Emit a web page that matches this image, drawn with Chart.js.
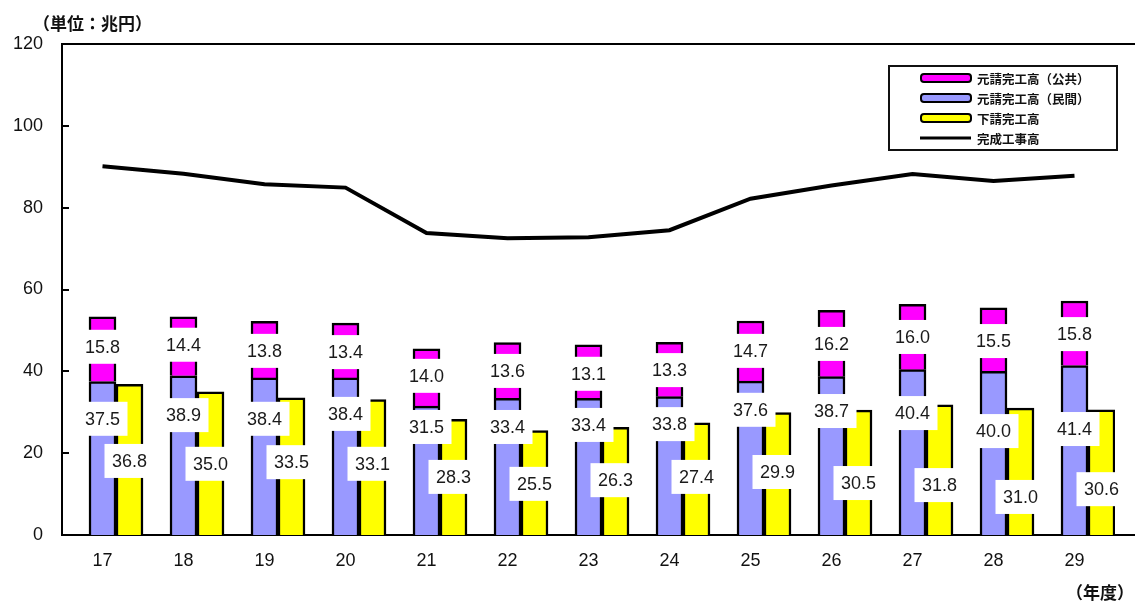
<!DOCTYPE html>
<html>
<head>
<meta charset="utf-8">
<script src="https://cdn.jsdelivr.net/npm/chart.js@4.4.1/dist/chart.umd.min.js"></script>
<style>
  html, body { margin: 0; padding: 0; background: #fff; }
  #wrap { position: relative; width: 1135px; height: 605px; }
</style>
</head>
<body>
<div id="wrap"><canvas id="c"></canvas></div>
<script>
// ---- data ----
const categories = ['17','18','19','20','21','22','23','24','25','26','27','28','29'];
const seriesNames = ['元請完工高（公共）','元請完工高（民間）','下請完工高','完成工事高'];
const publicWorks  = [15.8,14.4,13.8,13.4,14.0,13.6,13.1,13.3,14.7,16.2,16.0,15.5,15.8];
const privateWorks = [37.5,38.9,38.4,38.4,31.5,33.4,33.4,33.8,37.6,38.7,40.4,40.0,41.4];
const subcontract  = [36.8,35.0,33.5,33.1,28.3,25.5,26.3,27.4,29.9,30.5,31.8,31.0,30.6];
const totalWorks   = [90.1,88.3,85.7,84.9,73.8,72.5,72.8,74.5,82.2,85.4,88.2,86.5,87.8];
const yTicks = [0,20,40,60,80,100,120];

// ---- label anchor positions (value units, layout only) ----
const labelYPublic  = [46.0,46.5,45.0,44.7,38.9,40.1,39.4,40.3,45.0,46.7,48.4,47.4,49.1];
const labelYPrivate = [28.4,29.3,28.4,29.6,26.4,26.4,26.9,27.1,30.6,30.3,29.8,25.4,25.9];
const labelYSub     = [18.1,17.4,17.8,17.4,14.2,12.5,13.4,14.2,15.4,12.7,12.2, 9.3,11.2];

const COL_PUB = '#FF00FF', COL_PRIV = '#9999FF', COL_SUB = '#FFFF00';
const NUM_FONT = '18px "Liberation Sans", Arial, sans-serif';
const JP_FONT = '"Noto Sans CJK JP", "Noto Sans", sans-serif';

const decorPlugin = {
  id: 'decor',
  afterDatasetsDraw(chart) {
    const ctx = chart.ctx;
    const y = chart.scales.y;
    const ca = chart.chartArea;
    // inward ticks on y axis
    ctx.save();
    ctx.strokeStyle = '#000'; ctx.lineWidth = 2;
    yTicks.forEach(v => {
      const py = Math.round(y.getPixelForValue(v));
      if (v === 0 || v === 120) return;
      ctx.beginPath(); ctx.moveTo(ca.left, py); ctx.lineTo(ca.left + 7, py); ctx.stroke();
    });
    // top frame and extended x axis line
    ctx.beginPath(); ctx.moveTo(ca.left - 1, ca.top); ctx.lineTo(chart.width, ca.top); ctx.stroke();
    ctx.beginPath(); ctx.moveTo(ca.right, ca.bottom); ctx.lineTo(chart.width, ca.bottom); ctx.stroke();
    ctx.restore();

    // value labels with white boxes
    const drawLabel = (meta, posArr, vals) => {
      meta.data.forEach((el, i) => {
        const cx = el.x;
        const cy = y.getPixelForValue(posArr[i]);
        ctx.fillStyle = '#fff';
        ctx.fillRect(cx - 25, cy - 17, 50, 34);
        ctx.fillStyle = '#1a1a1a';
        ctx.font = NUM_FONT;
        ctx.textAlign = 'center';
        ctx.textBaseline = 'middle';
        ctx.fillText(vals[i].toFixed(1), cx, cy + 1);
      });
    };
    ctx.save();
    drawLabel(chart.getDatasetMeta(2), labelYPublic, publicWorks);
    drawLabel(chart.getDatasetMeta(1), labelYPrivate, privateWorks);
    drawLabel(chart.getDatasetMeta(3), labelYSub, subcontract);
    ctx.restore();
  },
  afterDraw(chart) {
    const ctx = chart.ctx;
    ctx.save();
    // legend
    ctx.fillStyle = '#fff';
    ctx.fillRect(889, 66, 228, 84);
    ctx.strokeStyle = '#111'; ctx.lineWidth = 2;
    ctx.strokeRect(889, 66, 228, 84);
    const rows = [78, 98, 118, 138];
    const fills = [COL_PUB, COL_PRIV, COL_SUB, null];
    rows.forEach((ry, k) => {
      if (fills[k]) {
        ctx.fillStyle = fills[k];
        ctx.strokeStyle = '#000'; ctx.lineWidth = 2;
        ctx.beginPath();
        ctx.roundRect(921, ry - 4, 50, 8, 3);
        ctx.fill(); ctx.stroke();
      } else {
        ctx.strokeStyle = '#000'; ctx.lineWidth = 3;
        ctx.beginPath(); ctx.moveTo(920, ry); ctx.lineTo(971, ry); ctx.stroke();
      }
      ctx.fillStyle = '#111';
      ctx.font = 'bold 12.5px ' + JP_FONT;
      ctx.textAlign = 'left'; ctx.textBaseline = 'middle';
      ctx.fillText(seriesNames[k], 977, ry + 1);
    });
    // unit labels
    ctx.font = 'bold 17px ' + JP_FONT;
    ctx.fillStyle = '#111';
    ctx.textAlign = 'left'; ctx.textBaseline = 'middle';
    ctx.fillText('（単位：兆円）', 33, 24);
    ctx.font = 'bold 17px ' + JP_FONT;
    ctx.fillText('（年度）', 1066, 593);
    ctx.restore();
  }
};

new Chart(document.getElementById('c'), {
  type: 'bar',
  data: {
    labels: categories,
    datasets: [
      { label: '_spacer', data: categories.map(() => null), stack: 'spacer', barThickness: 27 },
      { label: seriesNames[1], data: privateWorks, stack: 'main', backgroundColor: COL_PRIV,
        borderColor: '#000', borderWidth: 2.5, barThickness: 27 },
      { label: seriesNames[0], data: publicWorks, stack: 'main', backgroundColor: COL_PUB,
        borderColor: '#000', borderWidth: 2.5, barThickness: 27 },
      { label: seriesNames[2], data: subcontract, stack: 'sub', backgroundColor: COL_SUB,
        borderColor: '#000', borderWidth: 2.5, barThickness: 27 },
      { type: 'line', label: seriesNames[3], data: totalWorks, borderColor: '#000',
        borderWidth: 4, pointRadius: 0, tension: 0, fill: false, order: -1 }
    ]
  },
  options: {
    responsive: true,
    maintainAspectRatio: false,
    animation: false,
    layout: { padding: { top: 44, right: 20, left: 0, bottom: 0 } },
    plugins: { legend: { display: false }, tooltip: { enabled: false } },
    scales: {
      x: {
        stacked: true,
        offset: true,
        grid: { display: false, drawTicks: false },
        border: { display: true, color: '#000', width: 2 },
        ticks: { color: '#111', font: { family: '"Liberation Sans", Arial, sans-serif', size: 18 }, padding: 15, maxRotation: 0 },
        afterFit(s) { s.height = 70; }
      },
      y: {
        stacked: true,
        min: 0, max: 120,
        afterBuildTicks(s) { s.ticks = yTicks.map(v => ({ value: v })); },
        grid: { display: false, drawTicks: false },
        border: { display: true, color: '#000', width: 2 },
        ticks: { color: '#111', font: { family: '"Liberation Sans", Arial, sans-serif', size: 18 }, padding: 19 },
        afterFit(s) { s.width = 62; }
      }
    }
  },
  plugins: [decorPlugin]
});
</script>
</body>
</html>
